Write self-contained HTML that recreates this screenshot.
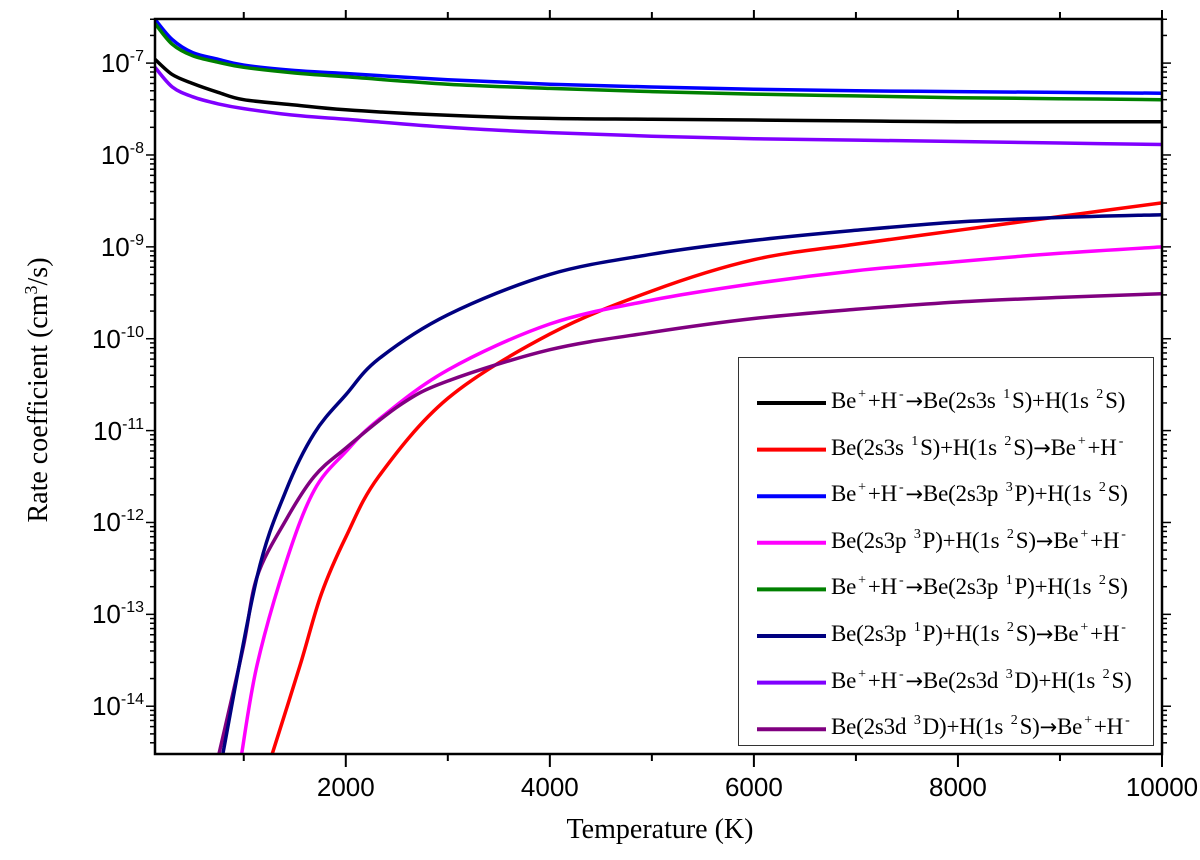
<!DOCTYPE html>
<html><head><meta charset="utf-8"><style>
body{margin:0;background:#fff;}
#wrap{position:relative;width:1200px;height:860px;overflow:hidden;font-family:"Liberation Serif",serif;}
.leg{position:absolute;left:831px;font-size:23px;white-space:nowrap;line-height:1;letter-spacing:-0.2px;}
.leg sup{font-size:14px;vertical-align:10px;margin:0 2px;}
.leg .ar{font-family:"DejaVu Sans",sans-serif;font-size:21px;}
.yl{position:absolute;right:1056px;font-family:"Liberation Sans",sans-serif;font-size:26px;white-space:nowrap;line-height:1;}
.yl sup{font-size:16px;vertical-align:11px;}
</style></head><body>
<div id="wrap">
<svg id="svg" width="1200" height="860" style="position:absolute;left:0;top:0"></svg>
<div id="ylabels"></div>
<div style="position:absolute;left:38px;top:390px;transform:translate(-50%,-50%) rotate(-90deg);font-size:28px;white-space:nowrap;">Rate coefficient (cm<sup style="font-size:18px">3</sup>/s)</div>
<div style="position:absolute;left:660px;top:814px;transform:translateX(-50%);font-size:28px;white-space:nowrap;">Temperature (K)</div>
<div id="legend" style="position:absolute;left:738px;top:357px;width:416px;height:389px;border:1.5px solid #333;box-sizing:border-box;"></div>
</div>
<script>
const T = [130,300,500,750,1000,1500,2000,3000,4000,5000,6000,7000,8000,9000,10000];
const black  = [1.1e-7,7.5e-8,6e-8,4.8e-8,4e-8,3.5e-8,3.1e-8,2.7e-8,2.5e-8,2.45e-8,2.4e-8,2.35e-8,2.3e-8,2.3e-8,2.3e-8];
const blue   = [3e-7,1.8e-7,1.3e-7,1.1e-7,9.5e-8,8.3e-8,7.7e-8,6.6e-8,5.9e-8,5.5e-8,5.2e-8,5e-8,4.9e-8,4.8e-8,4.7e-8];
const green  = [2.7e-7,1.6e-7,1.2e-7,1.02e-7,9e-8,7.8e-8,7.1e-8,5.9e-8,5.3e-8,4.9e-8,4.6e-8,4.4e-8,4.2e-8,4.1e-8,4e-8];
const violet = [9e-8,5.5e-8,4.3e-8,3.6e-8,3.2e-8,2.7e-8,2.45e-8,2e-8,1.75e-8,1.6e-8,1.5e-8,1.45e-8,1.4e-8,1.35e-8,1.3e-8];
const Tred = [1270,1553,1760,2000,2323,3000,4000,5000,6000,7000,8000,9000,10000];
const red  = [-14.55,-13.55,-12.78,-12.16,-11.5,-10.65,-9.95,-9.48,-9.14,-8.97,-8.82,-8.67,-8.52];
const Tnavy = [790,1131,1415,1690,2000,2323,3000,4000,5000,6000,7000,8000,9000,10000];
const navy  = [-14.55,-12.59,-11.65,-11.03,-10.61,-10.22,-9.74,-9.3,-9.08,-8.93,-8.82,-8.73,-8.68,-8.65];
const Tmag = [975,1131,1415,1690,2000,2323,3000,4000,5000,6000,7000,8000,9000,10000];
const mag  = [-14.55,-13.55,-12.43,-11.65,-11.23,-10.88,-10.34,-9.84,-9.58,-9.4,-9.26,-9.16,-9.07,-9.0];
const Tpur = [750,993,1131,1415,1690,2000,2533,3000,4000,5000,6000,7000,8000,9000,10000];
const pur  = [-14.55,-13.37,-12.59,-11.97,-11.5,-11.19,-10.72,-10.46,-10.12,-9.93,-9.78,-9.68,-9.6,-9.55,-9.51];
const xTicks = [2000,4000,6000,8000,10000];
const yDecades = [-7,-8,-9,-10,-11,-12,-13,-14];

const L=155,R=1162,TOP=19,BOT=754,XMIN=130,XMAX=10000,YMIN=-14.52,YMAX=-6.52;
const xs=t=>L+(t-XMIN)/(XMAX-XMIN)*(R-L);
const ys=lg=>BOT-(lg-YMIN)/(YMAX-YMIN)*(BOT-TOP);
const NS="http://www.w3.org/2000/svg";
const svg=document.getElementById('svg');
function mk(tag,attrs,name){const e=document.createElementNS(NS,tag);for(const k in attrs)e.setAttribute(k,attrs[k]);


svg.appendChild(e);return e;}
const defs=mk('clipPath',{id:'clip'},'clip');
const cr=document.createElementNS(NS,'rect');cr.setAttribute('x',L);cr.setAttribute('y',TOP);cr.setAttribute('width',R-L);cr.setAttribute('height',BOT-TOP);defs.appendChild(cr);
function series(tx,vals,isLog,color,name){
  const p=tx.map((t,i)=>[xs(t),ys(isLog?vals[i]:Math.log10(vals[i]))]);
  let d='M'+p[0][0].toFixed(1)+','+p[0][1].toFixed(1);
  for(let i=0;i<p.length-1;i++){
    const p0=p[Math.max(0,i-1)],p1=p[i],p2=p[i+1],p3=p[Math.min(p.length-1,i+2)];
    const c1=[p1[0]+(p2[0]-p0[0])/6,p1[1]+(p2[1]-p0[1])/6];
    const c2=[p2[0]-(p3[0]-p1[0])/6,p2[1]-(p3[1]-p1[1])/6];
    d+=' C'+c1.map(v=>v.toFixed(1)).join(',')+' '+c2.map(v=>v.toFixed(1)).join(',')+' '+p2.map(v=>v.toFixed(1)).join(',');
  }
  mk('path',{d:d,fill:'none',stroke:color,'stroke-width':3.5,'stroke-linejoin':'round','clip-path':'url(#clip)'},name);
}
series(T,black,false,'#000','series-black');
series(T,blue,false,'#0000ff','series-blue');
series(T,green,false,'#008000','series-green');
series(T,violet,false,'#8000ff','series-violet');
series(Tred,red,true,'#ff0000','series-red');
series(Tmag,mag,true,'#ff00ff','series-magenta');
series(Tpur,pur,true,'#800080','series-purple');
series(Tnavy,navy,true,'#000080','series-navy');
mk('rect',{x:L,y:TOP,width:R-L,height:BOT-TOP,fill:'none',stroke:'#000','stroke-width':2.5},'plot-frame');
for(let t=1000;t<=10000;t+=1000){const x=xs(t);const maj=t%2000===0;
  mk('line',{x1:x,y1:BOT,x2:x,y2:BOT+(maj?13:7),stroke:'#000','stroke-width':2},'x-tick');
  mk('line',{x1:x,y1:TOP,x2:x,y2:TOP-(maj?9:7),stroke:'#000','stroke-width':2},'x-tick-top');}
xTicks.forEach(t=>{const e=mk('text',{x:xs(t),y:BOT+42,'text-anchor':'middle','font-family':'Liberation Sans, sans-serif','font-size':26},'x-tick-label');e.textContent=t;});
for(let d=-15;d<=-6;d++){for(let m=1;m<10;m++){const lg=d+Math.log10(m);if(lg<YMIN||lg>YMAX)continue;const y=ys(lg);const len=m===1?9:5;
  mk('line',{x1:L,y1:y,x2:L-len,y2:y,stroke:'#000','stroke-width':1.5},'y-tick');
  mk('line',{x1:R,y1:y,x2:R+len,y2:y,stroke:'#000','stroke-width':1.5},'y-tick-right');}}
const yl=document.getElementById('ylabels');
yDecades.forEach(d=>{const e=document.createElement('div');e.className='yl';e.style.top=(ys(d)-14)+'px';e.innerHTML='10<sup>'+d+'</sup>';


yl.appendChild(e);});
const legColors=['#000','#ff0000','#0000ff','#ff00ff','#008000','#000080','#8000ff','#800080'];
const A='<span class="ar">→</span>';
const legText=[
'Be<sup>+</sup>+H<sup>-</sup>'+A+'Be(2s3s <sup>1</sup>S)+H(1s <sup>2</sup>S)',
'Be(2s3s <sup>1</sup>S)+H(1s <sup>2</sup>S)'+A+'Be<sup>+</sup>+H<sup>-</sup>',
'Be<sup>+</sup>+H<sup>-</sup>'+A+'Be(2s3p <sup>3</sup>P)+H(1s <sup>2</sup>S)',
'Be(2s3p <sup>3</sup>P)+H(1s <sup>2</sup>S)'+A+'Be<sup>+</sup>+H<sup>-</sup>',
'Be<sup>+</sup>+H<sup>-</sup>'+A+'Be(2s3p <sup>1</sup>P)+H(1s <sup>2</sup>S)',
'Be(2s3p <sup>1</sup>P)+H(1s <sup>2</sup>S)'+A+'Be<sup>+</sup>+H<sup>-</sup>',
'Be<sup>+</sup>+H<sup>-</sup>'+A+'Be(2s3d <sup>3</sup>D)+H(1s <sup>2</sup>S)',
'Be(2s3d <sup>3</sup>D)+H(1s <sup>2</sup>S)'+A+'Be<sup>+</sup>+H<sup>-</sup>'];
const wrap=document.getElementById('wrap');
legText.forEach((t,i)=>{const y=403+i*46.6;
  mk('line',{x1:757,y1:y,x2:826,y2:y,stroke:legColors[i],'stroke-width':4},'legend-swatch');
  const e=document.createElement('div');e.className='leg';e.style.top=(y-15)+'px';e.innerHTML=t;
  
  
  wrap.appendChild(e);});
</script>
</body></html>
